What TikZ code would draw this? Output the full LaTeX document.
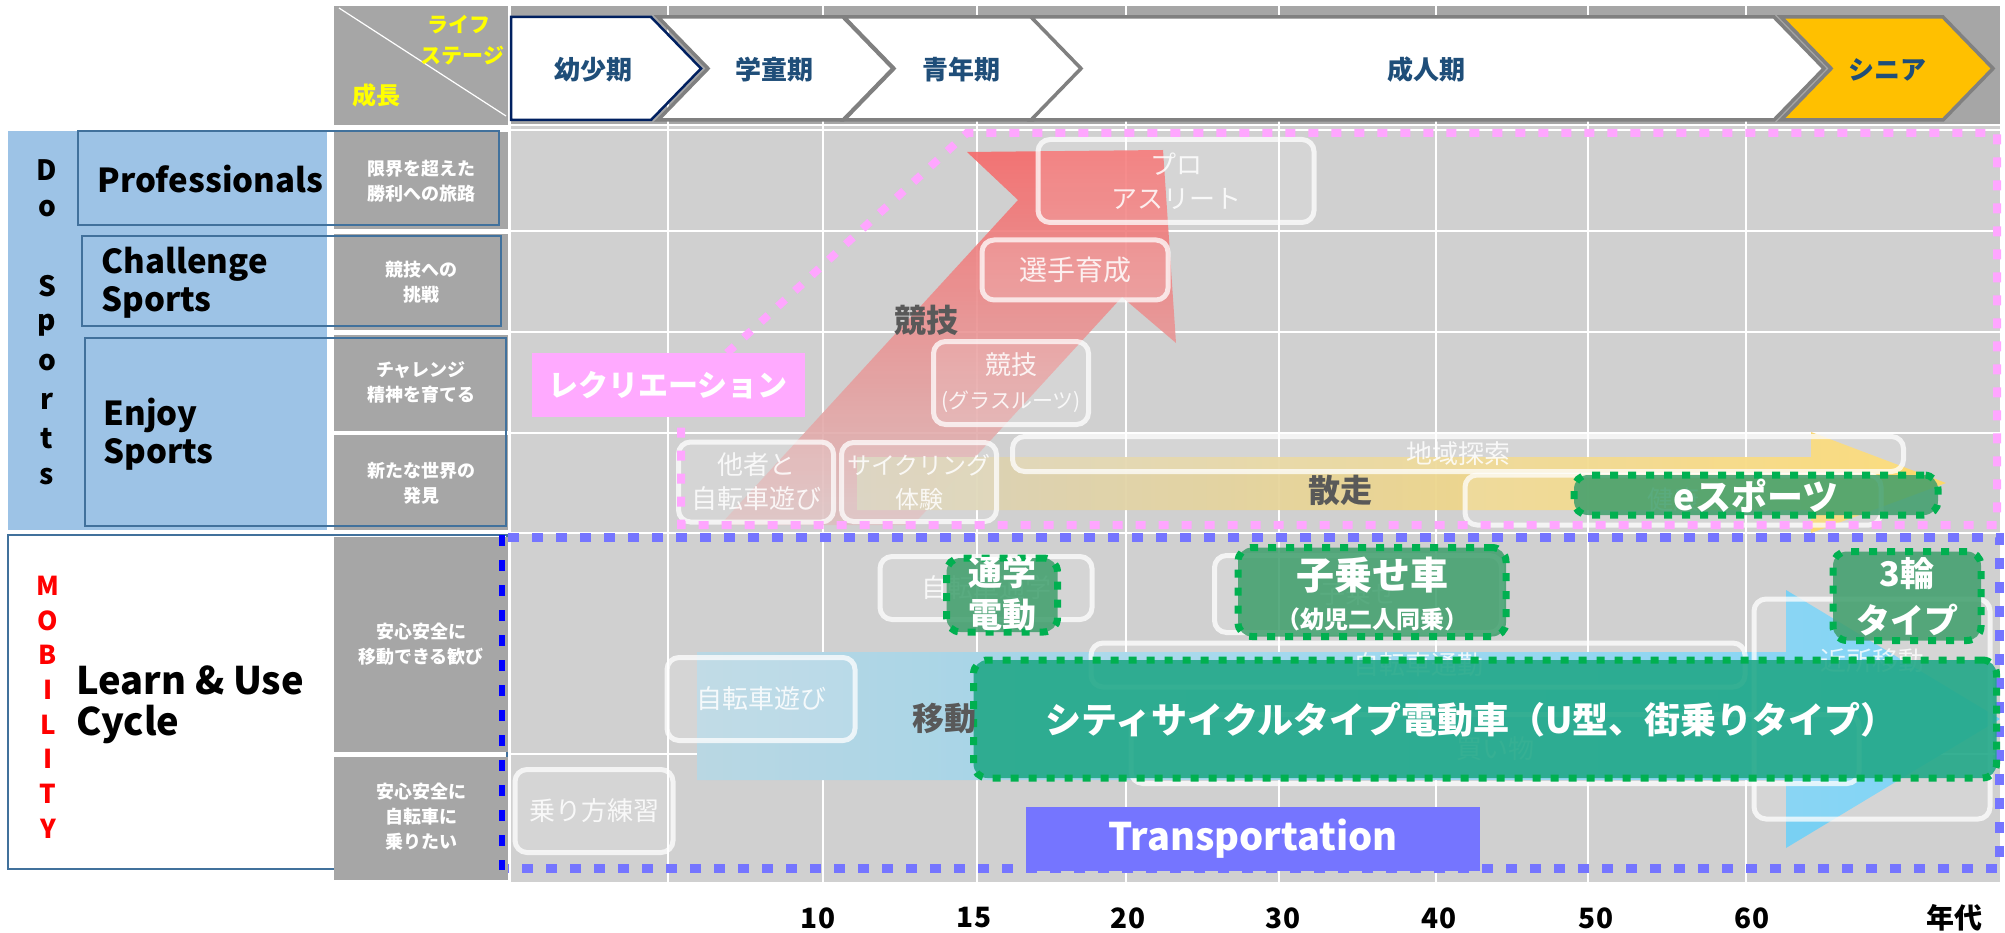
\documentclass[tikz,border=0pt]{standalone}
\usepackage{fontspec}
\setmainfont{Noto Sans CJK JP}
\definecolor{hdgray}{HTML}{A6A6A6}
\definecolor{gridgray}{HTML}{D0D0D0}
\definecolor{dsblue}{HTML}{9DC3E6}
\definecolor{edgeblue}{HTML}{41719C}
\definecolor{stagenavy}{HTML}{1F4E79}
\definecolor{firstnavy}{HTML}{002060}
\definecolor{senior}{HTML}{FFC000}
\definecolor{pinkdot}{HTML}{FFA6FF}
\definecolor{recpink}{HTML}{FFAAFF}
\definecolor{peri}{HTML}{7575FF}
\definecolor{dotgreen}{HTML}{00B050}
\definecolor{boxgreen}{HTML}{3E9E6B}
\definecolor{bandteal}{HTML}{22A888}
\definecolor{darktxt}{HTML}{595959}
\definecolor{lifeyellow}{HTML}{FFFF00}
\definecolor{redtop}{HTML}{F66A6A}
\definecolor{redfade}{HTML}{DCC0C0}
\definecolor{yelfade}{HTML}{D8D2BC}
\definecolor{yelfull}{HTML}{FFD966}
\definecolor{bluefade}{HTML}{B9D7E3}
\definecolor{bluefull}{HTML}{6DCFF6}
\tikzset{
  lblcell/.style={text=white, font=\bfseries\fontsize{18}{25}\selectfont, align=center},
  wbox/.style={draw=white, draw opacity=0.75, line width=5pt, fill=white, fill opacity=0.12, text=white, text opacity=0.85, rounded corners=12pt, font=\fontsize{26}{34}\selectfont, align=center, inner sep=0pt},
  gbox/.style={draw=dotgreen, line width=7pt, dash pattern=on 8pt off 10pt, fill=boxgreen, fill opacity=0.85, rounded corners=14pt, inner sep=0pt},
  gtxt/.style={text=white, font=\bfseries\fontsize{34}{42}\selectfont, align=center},
  stagebox/.style={draw=gray, line width=3.5pt, fill=white},
  stagetxt/.style={text=stagenavy, font=\bfseries\fontsize{26}{30}\selectfont},
  bigtxt/.style={text=darktxt, font=\bfseries\fontsize{32}{36}\selectfont},
  agetxt/.style={font=\bfseries\fontsize{28}{32}\selectfont},
  sidetxt/.style={font=\bfseries\fontsize{33}{38}\selectfont, anchor=west, align=left},
}
\begin{document}
\begin{tikzpicture}[x=1pt,y=-1pt]
\useasboundingbox (0,0) rectangle (2005,933);

\fill[hdgray] (334,6) rectangle (508,125);
\draw[white, line width=1.2pt] (339,8) -- (506,116);
\fill[hdgray] (511,6) rectangle (2000,124);
\fill[gridgray] (511,126) rectangle (2000,882);
\foreach \gx in {668,823,977,1126,1279,1436,1588,1746}
  \draw[white, line width=2.5pt] (\gx,6) -- (\gx,882);
\foreach \gy in {130,231,332,433,533,754}
  \draw[white, line width=2.5pt] (511,\gy) -- (2000,\gy);

\node[anchor=east, text=lifeyellow, font=\bfseries\fontsize{21}{24}\selectfont] (life) at (494,25) {ライフ};
\node[anchor=east, text=lifeyellow, font=\bfseries\fontsize{21}{24}\selectfont] (stg) at (508,56) {ステージ};
\node[text=lifeyellow, font=\bfseries\fontsize{24}{28}\selectfont] (grow) at (376,95) {成長};

\fill[dsblue] (8,131) rectangle (327,530);
\draw[edgeblue, line width=2pt, fill=white] (8,535) rectangle (507,869);
\foreach \ya/\yb in {132/229,234/330,335/431,435/530,537/752,757/880}
  \fill[hdgray] (334,\ya) rectangle (508,\yb);
\draw[edgeblue, line width=2.5pt] (78,131) rectangle (499,225);
\draw[edgeblue, line width=2.5pt] (82,236) rectangle (501,326);
\draw[edgeblue, line width=2.5pt] (85,338) rectangle (506,526);

\node[lblcell] (c1) at (421,181) {限界を超えた\\勝利への旅路};
\node[lblcell] (c2) at (421,282) {競技への\\挑戦};
\node[lblcell] (c3) at (421,382) {チャレンジ\\精神を育てる};
\node[lblcell] (c4) at (421,483) {新たな世界の\\発見};
\node[lblcell] (c5) at (421,644) {安心安全に\\移動できる歓び};
\node[lblcell] (c6) at (421,817) {安心安全に\\自転車に\\乗りたい};

\foreach \ch/\yy in {D/170,o/209,S/286,p/325,o/363,r/401,t/439,s/477}
  \node[font=\bfseries\fontsize{28}{32}\selectfont] (ds\yy) at (47,\yy) {\ch};
\foreach \ch [count=\i] in {M,O,B,I,L,I,T,Y}
  \node[text=red, font=\bfseries\fontsize{26}{30}\selectfont] (mob\i) at (48,551+34.7*\i) {\ch};
\node[sidetxt] (prof) at (94,179) {Professionals};
\node[sidetxt] (chal) at (98,283) {Challenge\\Sports};
\node[sidetxt] (enjoy) at (100,434) {Enjoy\\Sports};
\node[sidetxt, font=\bfseries\fontsize{38}{41}\selectfont] (learn) at (73,705) {Learn \& Use\\Cycle};

\shade[top color=redtop, bottom color=redfade, fill opacity=0.9]
  (720,525) -- (1018,200) -- (967,152) -- (1163,150) -- (1176,343) -- (1122,297) -- (913,525) -- cycle;
\shade[left color=yelfade, right color=yelfull, fill opacity=0.95]
  (857,457) -- (1811,457) -- (1811,432) -- (1946,483) -- (1811,533) -- (1811,510) -- (857,510) -- cycle;
\shade[left color=bluefade, right color=bluefull]
  (697,652) -- (1786,652) -- (1786,590) -- (2000,719) -- (1786,848) -- (1786,780) -- (697,780) -- cycle;

\node[wbox, minimum width=276pt, minimum height=83pt] (pro) at (1176,181) {プロ\\アスリート};
\node[wbox, minimum width=186pt, minimum height=60pt, font=\fontsize{28}{34}\selectfont] (senshu) at (1075,270) {選手育成};
\node[wbox, minimum width=155pt, minimum height=83pt] (kyogi) at (1011,383) {競技\\{\fontsize{21}{26}\selectfont(グラスルーツ)}};
\node[wbox, minimum width=155pt, minimum height=80pt] (tasha) at (756,482) {他者と\\自転車遊び};
\node[wbox, minimum width=155pt, minimum height=79pt, font=\fontsize{24}{34}\selectfont] (cycling) at (919,482) {サイクリング\\体験};
\node[wbox, minimum width=891pt, minimum height=35pt] (chiiki) at (1458,454) {地域探索};
\node[wbox, minimum width=416pt, minimum height=50pt] (kenko) at (1673,500) {健康};

\node[wbox, minimum width=158pt, minimum height=83pt] (norikata) at (594,811) {乗り方練習};
\node[wbox, minimum width=188pt, minimum height=83pt] (asobi) at (761,699) {自転車遊び};
\node[wbox, minimum width=212pt, minimum height=63pt] (tsugaku) at (986,588) {自転車通学};
\node[wbox, minimum width=287pt, minimum height=77pt] (kosose) at (1358,594) {子乗せ};
\node[wbox, minimum width=654pt, minimum height=44pt] (tsukin) at (1418,665) {自転車通勤};
\node[wbox, minimum width=728pt, minimum height=69pt] (kaimono) at (1495,749) {買い物};
\node[wbox, minimum width=236pt, minimum height=220pt] (kinjo) at (1872,709) {};
\node[text=white, text opacity=0.8, font=\fontsize{26}{30}\selectfont] (kinjotxt) at (1872,661) {近所移動};

\draw[pinkdot, line width=8pt, dash pattern=on 10pt off 13pt]
  (727,353) -- (967,133) -- (1997,133) -- (1997,525) -- (681,525) -- (681,425);
\draw[peri, line width=9pt, dash pattern=on 11pt off 13pt]
  (508,537) -- (1999,537) -- (1999,868) -- (508,868);
\draw[blue, line width=6pt, dash pattern=on 11pt off 14pt] (502,535) -- (502,870);

\node[gbox, minimum width=364pt, minimum height=40pt] (esp) at (1756,495) {};
\node[gtxt, font=\bfseries\fontsize{36}{40}\selectfont] (esptxt) at (1756,496) {eスポーツ};
\node[gbox, minimum width=111pt, minimum height=74pt] (tsuden) at (1002,595) {};
\node[gtxt] (tsudentxt) at (1002,594) {通学\\電動};
\node[gbox, minimum width=268pt, minimum height=89pt] (koden) at (1372,592) {};
\node[gtxt, font=\bfseries\fontsize{38}{42}\selectfont] (kodentxt) at (1372,575) {子乗せ車};
\node[gtxt, font=\bfseries\fontsize{24}{28}\selectfont] (kodensub) at (1372,619) {（幼児二人同乗）};
\node[gbox, minimum width=148pt, minimum height=89pt] (sanrin) at (1907,596) {};
\node[gtxt, font=\bfseries\fontsize{34}{47}\selectfont] (sanrintxt) at (1907,597) {3輪\\タイプ};
\node[gbox, minimum width=1023pt, minimum height=118pt, fill=bandteal, fill opacity=0.9] (city) at (1485,719) {};
\node[gtxt, font=\bfseries\fontsize{36}{40}\selectfont] (citytxt) at (1471,720) {シティサイクルタイプ電動車（U型、街乗りタイプ）};

\node[fill=recpink, minimum width=273pt, minimum height=64pt, text=white, font=\bfseries\fontsize{30}{34}\selectfont] (recre) at (668,385) {レクリエーション};
\node[fill=peri, minimum width=454pt, minimum height=64pt, text=white, font=\bfseries\fontsize{38}{42}\selectfont] (trans) at (1253,839) {Transportation};

\node[bigtxt] (kyogilbl) at (926,320) {競技};
\node[bigtxt] (sansou) at (1340,490) {散走};
\node[bigtxt] (idou) at (944,718) {移動};

\draw[stagebox, draw=firstnavy, line width=2.5pt] (511,17) -- (651,17) -- (701,68.5) -- (651,120) -- (511,120) -- cycle;
\foreach \a/\b in {658/893,844/1083,1031/1824}
  \draw[stagebox] (\a,17) -- (\b-50,17) -- (\b,68.5) -- (\b-50,120) -- (\a,120) -- (\a+50,68.5) -- cycle;
\draw[stagebox, fill=senior] (1781,17) -- (1943,17) -- (1993,68.5) -- (1943,120) -- (1781,120) -- (1831,68.5) -- cycle;
\node[stagetxt] (st1) at (593,70) {幼少期};
\node[stagetxt] (st2) at (774,70) {学童期};
\node[stagetxt] (st3) at (961,70) {青年期};
\node[stagetxt] (st4) at (1426,70) {成人期};
\node[stagetxt] (st5) at (1887,70) {シニア};

\foreach \v/\ax in {10/818,15/974,20/1128,30/1283,40/1439,50/1596,60/1752}
  \node[agetxt] (age\v) at (\ax,918) {\v};
\node[agetxt] (nendai) at (1954,918) {年代};
\end{tikzpicture}
\end{document}
